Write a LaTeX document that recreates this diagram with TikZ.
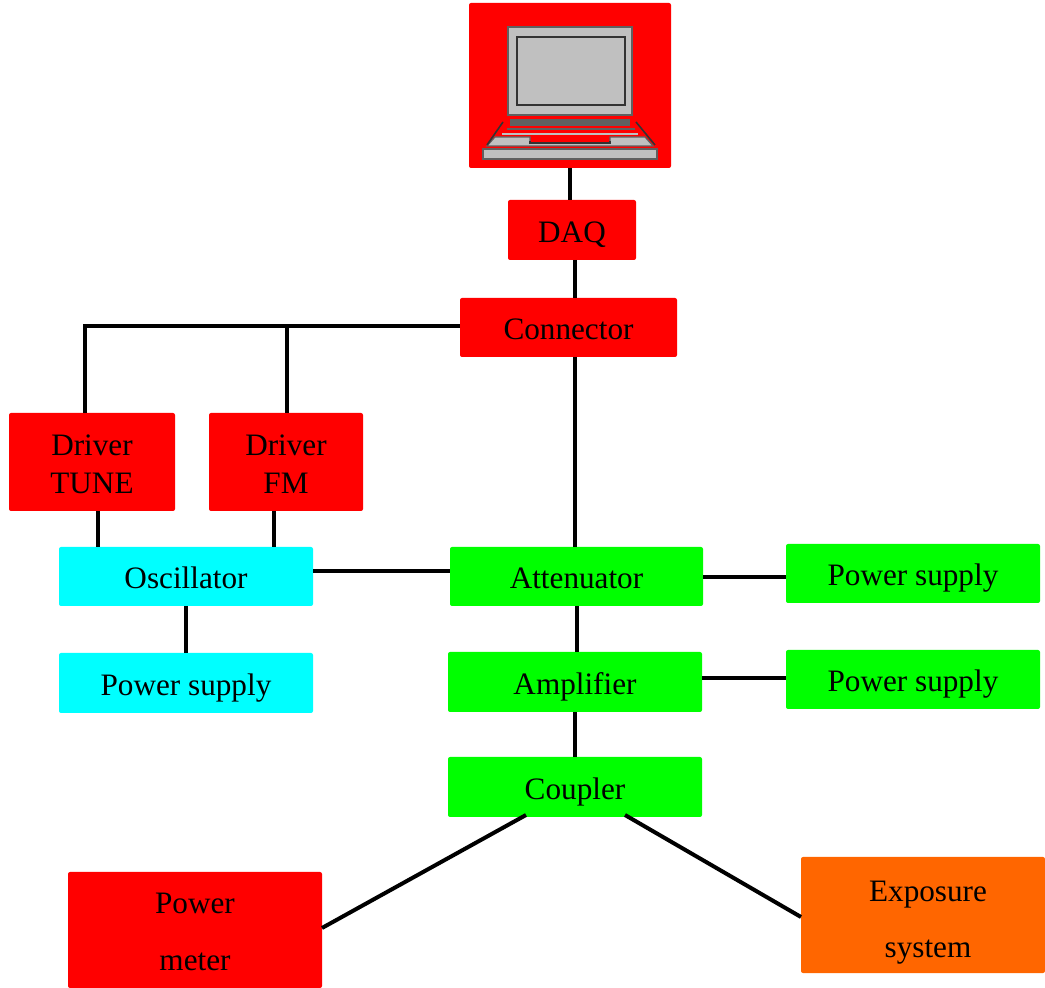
\documentclass[tikz,border=0pt]{standalone}
\usepackage{fontspec}
\setmainfont{Liberation Serif}
\definecolor{cRed}{RGB}{255,0,0}
\definecolor{cCyan}{RGB}{0,255,255}
\definecolor{cGreen}{RGB}{0,255,0}
\definecolor{cOrange}{RGB}{255,102,0}
\definecolor{lgray}{RGB}{192,192,192}
\definecolor{dgray}{RGB}{96,96,96}
\begin{document}
\begin{tikzpicture}[x=0.5pt,y=-0.5pt,
  box/.style={rounded corners=1pt,inner sep=0pt,outer sep=0pt,align=center,
    font=\fontsize{15.6}{19}\selectfont},
  one/.style={box,text height=12.2pt,text depth=0pt},
  wire/.style={line width=2pt,black},
  lap/.style={line width=0.6pt,draw=dgray,fill=lgray}]
\useasboundingbox (0,0) rectangle (1045,988);
% nodes
\node[box,fill=cRed,minimum width=101pt,minimum height=82.5pt] (laptop) at (570,85.5) {};
\node[one,fill=cRed,minimum width=64pt,minimum height=30pt] (DAQ) at (572,230) {DAQ};
\node[one,fill=cRed,minimum width=108.5pt,minimum height=29.5pt] (Conn) at (568.5,327.5) {Connector};
\node[box,fill=cRed,minimum width=83pt,minimum height=49pt] (TUNE) at (92,462) {\rule{0pt}{12.6pt}Driver\\TUNE};
\node[box,fill=cRed,minimum width=77pt,minimum height=49pt] (FM) at (286,462) {\rule{0pt}{12.6pt}Driver\\FM};
\node[one,fill=cCyan,minimum width=127pt,minimum height=29.5pt] (Osc) at (186,576.5) {Oscillator};
\node[one,fill=cCyan,minimum width=127pt,minimum height=30pt] (PSosc) at (186,683) {Power supply};
\node[one,fill=cGreen,minimum width=126.5pt,minimum height=29.5pt] (Att) at (576.5,576.5) {Attenuator};
\node[one,fill=cGreen,minimum width=127pt,minimum height=29.5pt] (PSa) at (913,573.5) {Power supply};
\node[one,fill=cGreen,minimum width=127pt,minimum height=30pt] (Amp) at (575,682) {Amplifier};
\node[one,fill=cGreen,minimum width=127pt,minimum height=29.5pt] (PSb) at (913,679.5) {Power supply};
\node[one,fill=cGreen,minimum width=127pt,minimum height=30pt] (Coup) at (575,787) {Coupler};
\node[box,fill=cRed,minimum width=127pt,minimum height=58pt] (PM) at (195,930) {\rule{0pt}{12.6pt}Power\\[9.5pt]meter};
\node[box,fill=cOrange,minimum width=122pt,minimum height=58pt] (Exp) at (923,915) {\rule{0pt}{17.5pt}\hspace*{5pt}Exposure\\[9pt]\hspace*{5pt}system};
% laptop icon
\draw[lap] (508,27) rectangle (632,115);
\draw[line width=1.2pt,draw=black!80,fill=lgray] (517,37) rectangle (625,105);
\fill[dgray] (510,119) rectangle (630,126);
\draw[line width=0.8pt,dgray] (507,129) -- (635,129);
\draw[line width=1.2pt,lgray] (502,134) -- (638,134);
\draw[lap] (495,137) -- (530,137) -- (530,143) -- (610,143) -- (610,137) -- (645,137) -- (653,146) -- (487,146) -- cycle;
\draw[line width=0.8pt,draw=black!80] (530,141) -- (530,143) -- (610,143) -- (610,141);
\draw[line width=0.8pt,black!80] (503,122) -- (487,145);
\draw[line width=0.8pt,black!80] (636,122) -- (655,145);
\draw[lap,line width=0.8pt] (483,149) rectangle (657,159);
% connectors
\coordinate (c1) at (85,326);
\coordinate (c2) at (287,326);
\draw[wire] (laptop.south) -- (laptop.south |- DAQ.north);
\draw[wire] ([xshift=1.5pt]DAQ.south) -- ([xshift=1.5pt]DAQ.south |- Conn.north);
\draw[wire] (Conn.west |- c1) -- (c1) -- (c1 |- TUNE.north);
\draw[wire] (c2) -- (c2 |- FM.north);
\draw[wire] ([xshift=3pt]TUNE.south) -- ([xshift=3pt]TUNE.south |- Osc.north);
\draw[wire] ([xshift=-6pt]FM.south) -- ([xshift=-6pt]FM.south |- Osc.north);
\draw[wire] (Osc.south) -- (PSosc.north);
\draw[wire] ([yshift=2.75pt]Osc.east) -- ([yshift=2.75pt]Osc.east -| Att.west);
\draw[wire] ([xshift=3.25pt]Conn.south) -- ([xshift=3.25pt]Conn.south |- Att.north);
\draw[wire] ([yshift=-0.25pt]Att.east) -- ([yshift=-0.25pt]Att.east -| PSa.west);
\draw[wire] (Att.south) -- (Att.south |- Amp.north);
\draw[wire] ([yshift=2pt]Amp.east) -- ([yshift=2pt]Amp.east -| PSb.west);
\draw[wire] (Amp.south) -- (Coup.north);
\draw[wire] ([xshift=-24.5pt,yshift=1pt]Coup.south) -- ([yshift=1pt]PM.east);
\draw[wire] ([xshift=25pt,yshift=1pt]Coup.south) -- ([yshift=-1pt]Exp.west);
\end{tikzpicture}
\end{document}
